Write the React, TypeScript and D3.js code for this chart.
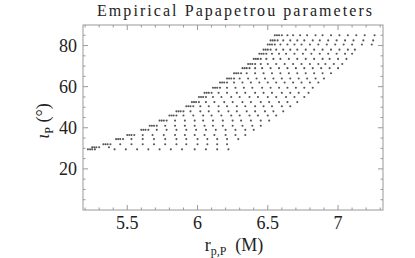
import { useEffect, useRef } from "react";
import * as d3 from "d3";

// inclination of each row of points (degrees)
const inclinations = [
	85, 82.5, 80.5, 78, 76, 73.5, 71, 69, 66.5, 64, 62, 59.5, 57,
	55, 52.5, 50.5, 48, 46, 43.5, 41, 39, 36.5, 34.5, 32, 30.5, 29.5,
];

// periastron radius of each point in the row (M)
const radiiByRow = [
	[6.55, 6.565, 6.58, 6.6, 6.64, 6.68, 6.73, 6.78, 6.84, 6.89, 6.95, 7.01, 7.07, 7.13, 7.19, 7.26],
	[6.52, 6.535, 6.55, 6.57, 6.61, 6.66, 6.71, 6.76, 6.82, 6.87, 6.93, 6.99, 7.05, 7.11, 7.18, 7.25],
	[6.5, 6.515, 6.53, 6.55, 6.59, 6.64, 6.69, 6.74, 6.8, 6.86, 6.92, 6.98, 7.04, 7.1, 7.17, 7.24],
	[6.47, 6.485, 6.5, 6.52, 6.56, 6.61, 6.66, 6.71, 6.77, 6.83, 6.89, 6.95, 7.01, 7.07, 7.12],
	[6.44, 6.455, 6.47, 6.49, 6.53, 6.58, 6.63, 6.69, 6.75, 6.81, 6.87, 6.93, 6.99, 7.05, 7.1],
	[6.4, 6.415, 6.43, 6.45, 6.49, 6.54, 6.59, 6.65, 6.71, 6.77, 6.83, 6.89, 6.94, 7.0, 7.06],
	[6.36, 6.375, 6.39, 6.41, 6.45, 6.5, 6.56, 6.62, 6.68, 6.74, 6.8, 6.86, 6.91, 6.97, 7.03],
	[6.32, 6.335, 6.35, 6.37, 6.41, 6.46, 6.52, 6.58, 6.64, 6.7, 6.76, 6.82, 6.88, 6.94, 7.0],
	[6.26, 6.275, 6.29, 6.31, 6.35, 6.41, 6.47, 6.53, 6.59, 6.65, 6.71, 6.77, 6.83, 6.89, 6.95],
	[6.21, 6.225, 6.24, 6.26, 6.3, 6.36, 6.42, 6.48, 6.54, 6.6, 6.66, 6.72, 6.78, 6.84, 6.9],
	[6.16, 6.175, 6.19, 6.21, 6.26, 6.32, 6.38, 6.44, 6.5, 6.56, 6.62, 6.68, 6.74, 6.8, 6.86],
	[6.11, 6.125, 6.14, 6.16, 6.21, 6.27, 6.33, 6.39, 6.46, 6.52, 6.58, 6.64, 6.7, 6.76, 6.82],
	[6.05, 6.065, 6.08, 6.1, 6.15, 6.21, 6.28, 6.34, 6.41, 6.47, 6.53, 6.6, 6.66, 6.72, 6.79],
	[6.01, 6.025, 6.04, 6.06, 6.11, 6.17, 6.24, 6.3, 6.37, 6.43, 6.5, 6.56, 6.63, 6.69, 6.76],
	[5.96, 5.975, 5.99, 6.01, 6.06, 6.12, 6.19, 6.25, 6.32, 6.38, 6.45, 6.51, 6.58, 6.64, 6.71],
	[5.92, 5.935, 5.95, 5.97, 6.02, 6.08, 6.15, 6.21, 6.28, 6.34, 6.41, 6.47, 6.53, 6.6, 6.66],
	[5.85, 5.865, 5.88, 5.9, 5.95, 6.02, 6.08, 6.15, 6.22, 6.28, 6.35, 6.41, 6.48, 6.54, 6.61],
	[5.8, 5.815, 5.83, 5.85, 5.9, 5.97, 6.04, 6.1, 6.17, 6.24, 6.3, 6.37, 6.43, 6.5, 6.56],
	[5.73, 5.745, 5.76, 5.78, 5.84, 5.91, 5.98, 6.04, 6.11, 6.18, 6.25, 6.31, 6.38, 6.45, 6.51],
	[5.66, 5.675, 5.69, 5.71, 5.77, 5.84, 5.91, 5.98, 6.05, 6.11, 6.18, 6.25, 6.32, 6.39, 6.45],
	[5.6, 5.615, 5.63, 5.65, 5.71, 5.78, 5.85, 5.92, 5.99, 6.06, 6.13, 6.2, 6.27, 6.34, 6.4],
	[5.5, 5.515, 5.53, 5.55, 5.61, 5.68, 5.76, 5.84, 5.91, 5.98, 6.05, 6.12, 6.2, 6.27, 6.34],
	[5.42, 5.435, 5.45, 5.47, 5.53, 5.61, 5.69, 5.77, 5.85, 5.92, 6.0, 6.07, 6.14, 6.21, 6.29],
	[5.33, 5.345, 5.36, 5.38, 5.45, 5.53, 5.61, 5.69, 5.77, 5.85, 5.92, 6.0, 6.07, 6.14, 6.21],
	[5.25, 5.265, 5.28, 5.3, 5.37],
	[5.22, 5.235, 5.25, 5.27, 5.41, 5.49, 5.57, 5.65, 5.73, 5.81, 5.89, 5.98, 6.06, 6.14, 6.22],
];

const xMajor = [5.5, 6, 6.5, 7];
const yMajor = [20, 40, 60, 80];

const W = 415;
const H = 258;

export default function App() {
	const ref = useRef<SVGSVGElement>(null);

	useEffect(() => {
		const svg = d3.select(ref.current);
		svg.selectAll("*").remove();

		const left = 83, right = 383, top = 25, bottom = 210;
		const font = "'Liberation Serif', 'Times New Roman', serif";

		const x = d3.scaleLinear().domain([5.185, 7.32]).range([left, right]);
		const y = d3.scaleLinear().domain([0, 90]).range([bottom, top]);

		// points
		const pts: [number, number][] = [];
		radiiByRow.forEach((row, i) => row.forEach(r => pts.push([r, inclinations[i]])));

		svg.append("g")
			.selectAll("circle")
			.data(pts)
			.enter()
			.append("circle")
			.attr("cx", d => x(d[0]))
			.attr("cy", d => y(d[1]))
			.attr("r", 1.05)
			.attr("fill", "#555");

		// frame
		svg.append("rect")
			.attr("x", left)
			.attr("y", top)
			.attr("width", right - left)
			.attr("height", bottom - top)
			.attr("fill", "none")
			.attr("stroke", "#999")
			.attr("stroke-width", 1);

		const ticks = svg.append("g").attr("stroke", "#999").attr("stroke-width", 1);

		// x ticks, top and bottom
		const xMinor = d3.range(52, 74).map(v => v / 10).filter(v => !xMajor.includes(v));
		const xTicks = [...xMajor.map(v => [v, 5]), ...xMinor.map(v => [v, 2.5])];
		xTicks.forEach(([v, len]) => {
			ticks.append("line")
				.attr("x1", x(v)).attr("x2", x(v))
				.attr("y1", bottom).attr("y2", bottom - len);
			ticks.append("line")
				.attr("x1", x(v)).attr("x2", x(v))
				.attr("y1", top).attr("y2", top + len);
		});

		// y ticks, left and right
		const yMinor = d3.range(5, 90, 5).filter(v => !yMajor.includes(v));
		const yTicks = [...yMajor.map(v => [v, 5]), ...yMinor.map(v => [v, 2.5])];
		yTicks.forEach(([v, len]) => {
			ticks.append("line")
				.attr("x1", left).attr("x2", left + len)
				.attr("y1", y(v)).attr("y2", y(v));
			ticks.append("line")
				.attr("x1", right).attr("x2", right - len)
				.attr("y1", y(v)).attr("y2", y(v));
		});

		// tick labels
		svg.append("g")
			.selectAll("text")
			.data(xMajor)
			.enter()
			.append("text")
			.attr("x", d => x(d))
			.attr("y", 229)
			.attr("text-anchor", "middle")
			.attr("font-family", font)
			.attr("font-size", 18)
			.attr("fill", "#222")
			.text(d => String(d));

		svg.append("g")
			.selectAll("text")
			.data(yMajor)
			.enter()
			.append("text")
			.attr("x", 77)
			.attr("y", d => y(d) + 6)
			.attr("text-anchor", "end")
			.attr("font-family", font)
			.attr("font-size", 18)
			.attr("fill", "#222")
			.text(d => String(d));

		// title
		svg.append("text")
			.attr("x", 97)
			.attr("y", 16)
			.attr("textLength", 275)
			.attr("lengthAdjust", "spacing")
			.attr("font-family", font)
			.attr("font-size", 16)
			.attr("fill", "#222")
			.text("Empirical  Papapetrou  parameters");

		// x label
		const xl = svg.append("text")
			.attr("x", 234)
			.attr("y", 251)
			.attr("text-anchor", "middle")
			.attr("font-family", font)
			.attr("font-size", 18)
			.attr("fill", "#222");
		xl.append("tspan").text("r");
		xl.append("tspan").attr("font-size", 12).attr("dy", 4).text("p,P");
		xl.append("tspan").attr("dy", -4).text("\u00a0 (M)");

		// y label
		const yl = svg.append("text")
			.attr("transform", "translate(49,121) rotate(-90)")
			.attr("text-anchor", "middle")
			.attr("font-family", font)
			.attr("font-size", 18)
			.attr("fill", "#222");
		yl.append("tspan").attr("font-style", "italic").text("ι");
		yl.append("tspan").attr("font-size", 12).attr("dy", 4).text("P");
		yl.append("tspan").attr("dy", -4).text(" (°)");
	}, []);

	return (
		<svg
			ref={ref}
			width={W}
			height={H}
			style={{ position: "absolute", left: 0, top: 0, background: "#fff" }}
		/>
	);
}
